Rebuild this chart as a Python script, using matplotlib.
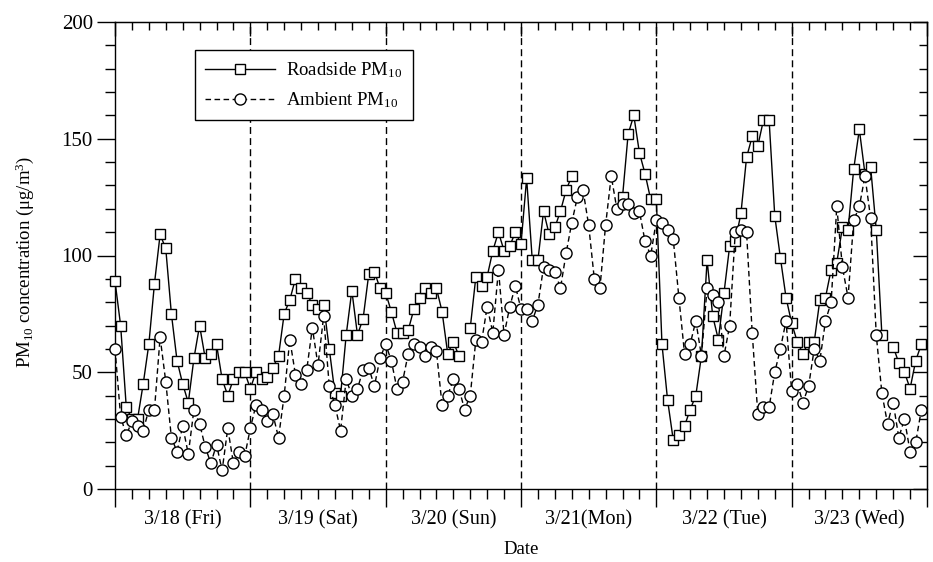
import numpy as np
import matplotlib
matplotlib.use("Agg")
import matplotlib.pyplot as plt
from matplotlib.ticker import MultipleLocator

nan = np.nan
hours = np.arange(144)

roadside = [89, 70, 35, 30, 30, 45, 62, 88, 109, 103, 75, 55, 45, 37, 56, 70, 56, 58, 62, 47, 40, 47, 50, 50,
            43, 50, 47, 48, 52, 57, 75, 81, 90, 86, 84, 79, 77, 79, 60, 41, 40, 66, 85, 66, 73, 92, 93, 86,
            84, 76, 67, 67, 68, 77, 82, 86, 84, 86, 76, 58, 63, 57, nan, 69, 91, 87, 91, 102, 110, 102, 104, 110,
            105, 133, 98, 98, 119, 109, 112, 119, 128, 134, nan, nan, nan, nan, nan, nan, nan, nan, 125, 152, 160, 144,
            135, 124, 124, 62, 38, 21, 23, 27, 34, 40, 57, 98, 74, 64, 84, 104, 106, 118, 142, 151, 147, 158, 158, 117,
            99, 82, 71, 63, 58, 63, 63, 81, 82, 94, 97, 112, 111, 137, 154, 135, 138, 111, 66, nan, 61, 54, 50, 43, 55, 62]

ambient = [60, 31, 23, 29, 27, 25, 34, 34, 65, 46, 22, 16, 27, 15, 34, 28, 18, 11, 19, 8, 26, 11, 16, 14,
           26, 36, 34, 29, 32, 22, 40, 64, 49, 45, 51, 69, 53, 74, 44, 36, 25, 47, 40, 43, 51, 52, 44, 56,
           62, 55, 43, 46, 58, 62, 61, 57, 61, 59, 36, 40, 47, 43, 34, 40, 64, 63, 78, 67, 94, 66, 78, 87,
           77, 77, 72, 79, 95, 94, 93, 86, 101, 114, 125, 128, 113, 90, 86, 113, 134, 120, 122, 122, 118, 119, 106, 100,
           115, 114, 111, 107, 82, 58, 62, 72, 57, 86, 83, 80, 57, 70, 110, 111, 110, 67, 32, 35, 35, 50, 60, 72,
           42, 45, 37, 44, 60, 55, 72, 80, 121, 95, 82, 115, 121, 134, 116, 66, 41, 28, 37, 22, 30, 16, 20, 34]

day_labels = ["3/18 (Fri)", "3/19 (Sat)", "3/20 (Sun)", "3/21(Mon)", "3/22 (Tue)", "3/23 (Wed)"]

plt.rcParams['font.family'] = ['Liberation Serif', 'DejaVu Serif']
plt.rcParams['mathtext.fontset'] = 'custom'
plt.rcParams['mathtext.rm'] = 'Liberation Serif'
plt.rcParams['mathtext.it'] = 'Liberation Serif:italic'

fig = plt.figure(figsize=(9.33, 5.62), dpi=100)
ax = fig.add_axes([115/933, 1-489/562, 812/933, 467/562])

ax.plot(hours, roadside, '-', color='black', lw=1.0, marker='s', ms=7.5, mfc='white', mec='black', mew=1.0,
        label='Roadside PM$_{10}$', clip_on=False, zorder=3)
ax.plot(hours, ambient, '--', color='black', lw=1.0, dashes=(4, 2.5), marker='o', ms=8, mfc='white', mec='black',
        mew=1.0, label='Ambient PM$_{10}$', clip_on=False, zorder=3)

for d in range(1, 6):
    ax.axvline(d*24, color='black', lw=1.0, ls=(0, (5, 3)), zorder=1)

ax.set_xlim(0, 144)
ax.set_ylim(0, 200)

ax.xaxis.set_major_locator(MultipleLocator(24))
ax.xaxis.set_minor_locator(MultipleLocator(3))
ax.set_xticklabels([])
for i, lab in enumerate(day_labels):
    ax.text(12 + 24*i, -0.045, lab, transform=ax.get_xaxis_transform(), ha='center', va='top', fontsize=14.5)

ax.yaxis.set_major_locator(MultipleLocator(50))
ax.yaxis.set_minor_locator(MultipleLocator(10))
ax.tick_params(axis='both', which='major', direction='out', length=13, width=1, labelsize=15)
ax.tick_params(axis='both', which='minor', direction='out', length=7, width=1)
ax.tick_params(axis='y', which='major', pad=3)

secx = ax.secondary_xaxis('top')
secx.xaxis.set_major_locator(MultipleLocator(24))
secx.xaxis.set_minor_locator(MultipleLocator(3))
secx.tick_params(which='major', direction='in', length=10, width=1, labeltop=False)
secx.tick_params(which='minor', direction='in', length=6, width=1)
secx.set_xticklabels([])

secy = ax.secondary_yaxis('right')
secy.yaxis.set_major_locator(MultipleLocator(50))
secy.yaxis.set_minor_locator(MultipleLocator(10))
secy.tick_params(which='major', direction='in', length=10, width=1, labelright=False)
secy.tick_params(which='minor', direction='in', length=6, width=1)
secy.set_yticklabels([])

for s in ax.spines.values():
    s.set_linewidth(1.0)

fig.text(25/933, 1-262/562, 'PM$_{10}$ concentration (μg/m$^3$)', rotation=90, ha='center', va='center', fontsize=13.5)
fig.text(521/933, 1-549/562, 'Date', ha='center', va='center', fontsize=13.5)

leg = ax.legend(loc='upper left', bbox_to_anchor=(0.0985, 0.94), borderaxespad=0, fontsize=13.5,
                handlelength=3.7, handletextpad=0.6, frameon=True, fancybox=False, edgecolor='black', framealpha=1,
                borderpad=0.55, labelspacing=0.55)
leg.get_frame().set_linewidth(1.0)

fig.savefig('out.png', dpi=100)
